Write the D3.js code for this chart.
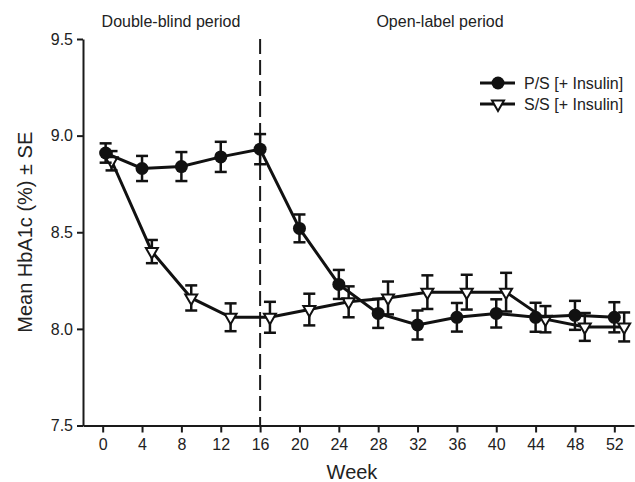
<!DOCTYPE html>
<html>
<head>
<meta charset="utf-8">
<script src="https://cdn.jsdelivr.net/npm/d3@7"></script>
<style>
	body { margin: 0; background: #fff; }
	svg { display: block; font-family: "Liberation Sans", Arial, sans-serif; }
</style>
</head>
<body>
<script>
// data
var weeksPS = [0.3, 4, 8, 12, 16, 20, 24, 28, 32, 36, 40, 44, 48, 52];
var meanPS = [8.91, 8.83, 8.84, 8.89, 8.93, 8.52, 8.23, 8.08, 8.02, 8.06, 8.08, 8.06, 8.07, 8.06];
var sePS = [0.05, 0.065, 0.075, 0.078, 0.078, 0.072, 0.075, 0.075, 0.075, 0.074, 0.073, 0.075, 0.075, 0.078];

var weeksSS = [0.9, 5, 9, 13, 17, 21, 25, 29, 33, 37, 41, 45, 49, 53];
var meanSS = [8.87, 8.40, 8.16, 8.06, 8.06, 8.10, 8.14, 8.16, 8.19, 8.19, 8.19, 8.05, 8.01, 8.01];
var seSS = [0.05, 0.06, 0.065, 0.072, 0.08, 0.082, 0.08, 0.085, 0.087, 0.09, 0.1, 0.068, 0.072, 0.075];

var xTicks = [0, 4, 8, 12, 16, 20, 24, 28, 32, 36, 40, 44, 48, 52];
var yTicks = [7.5, 8.0, 8.5, 9.0, 9.5];
var periodLabels = ["Double-blind period", "Open-label period"];
var seriesNames = ["P/S [+ Insulin]", "S/S [+ Insulin]"];
var switchWeek = 16;

var svg = d3.select("body").append("svg")
	.attr("width", 635)
	.attr("height", 482);

var x = d3.scaleLinear().domain([-2, 54]).range([83, 634]);
var y = d3.scaleLinear().domain([7.5, 9.5]).range([425.5, 39]);

// axes
var xAxis = svg.append("g")
	.attr("transform", "translate(0," + y(7.5) + ")")
	.call(d3.axisBottom(x).tickValues(xTicks).tickSize(7).tickSizeOuter(0).tickPadding(6));

var yAxis = svg.append("g")
	.attr("transform", "translate(" + x(-2) + ",0)")
	.call(d3.axisLeft(y).tickValues(yTicks).tickFormat(d3.format(".1f")).tickSize(6).tickSizeOuter(0).tickPadding(4));

[xAxis, yAxis].forEach(function(a) {
	a.selectAll("path, line").attr("stroke", "#1a1a1a").attr("stroke-width", 2);
	a.selectAll("text").attr("fill", "#222").style("font-size", "16px");
});

svg.append("text")
	.attr("x", 352)
	.attr("y", 479)
	.attr("text-anchor", "middle")
	.style("font-size", "20px")
	.attr("fill", "#222")
	.text("Week");

svg.append("text")
	.attr("transform", "translate(32," + y(8.5) + ") rotate(-90)")
	.attr("text-anchor", "middle")
	.style("font-size", "20px")
	.attr("fill", "#222")
	.text("Mean HbA1c (%) \u00b1 SE");

// period divider
svg.append("line")
	.attr("x1", x(switchWeek)).attr("x2", x(switchWeek))
	.attr("y1", y(9.5)).attr("y2", y(7.5))
	.attr("stroke", "#1a1a1a")
	.attr("stroke-width", 2)
	.attr("stroke-dasharray", "15,6");

svg.append("text")
	.attr("x", 171).attr("y", 27)
	.attr("text-anchor", "middle")
	.style("font-size", "16px")
	.attr("fill", "#222")
	.text(periodLabels[0]);

svg.append("text")
	.attr("x", 440).attr("y", 27)
	.attr("text-anchor", "middle")
	.style("font-size", "16px")
	.attr("fill", "#222")
	.text(periodLabels[1]);

var ps = weeksPS.map(function(w, i) { return {w: w, m: meanPS[i], se: sePS[i]}; });
var ss = weeksSS.map(function(w, i) { return {w: w, m: meanSS[i], se: seSS[i]}; });

var line = d3.line()
	.x(function(d) { return x(d.w); })
	.y(function(d) { return y(d.m); });

var tri = d3.symbol().type(d3.symbolTriangle).size(62);

function drawSeries(data, marker) {
	var g = svg.append("g");

	g.append("path")
		.attr("d", line(data))
		.attr("fill", "none")
		.attr("stroke", "#111")
		.attr("stroke-width", 3);

	var eb = g.selectAll(".eb")
		.data(data)
		.enter().append("g")
		.attr("class", "eb");

	eb.append("line")
		.attr("x1", function(d) { return x(d.w); })
		.attr("x2", function(d) { return x(d.w); })
		.attr("y1", function(d) { return y(d.m - d.se); })
		.attr("y2", function(d) { return y(d.m + d.se); });

	[-1, 1].forEach(function(s) {
		eb.append("line")
			.attr("x1", function(d) { return x(d.w) - 6; })
			.attr("x2", function(d) { return x(d.w) + 6; })
			.attr("y1", function(d) { return y(d.m + s * d.se); })
			.attr("y2", function(d) { return y(d.m + s * d.se); });
	});

	eb.selectAll("line")
		.attr("stroke", "#111")
		.attr("stroke-width", 2.5);

	if (marker === "circle") {
		g.selectAll(".pt")
			.data(data)
			.enter().append("circle")
			.attr("cx", function(d) { return x(d.w); })
			.attr("cy", function(d) { return y(d.m); })
			.attr("r", 6.5)
			.attr("fill", "#111");
	} else {
		g.selectAll(".pt")
			.data(data)
			.enter().append("path")
			.attr("d", tri)
			.attr("transform", function(d) {
				return "translate(" + x(d.w) + "," + y(d.m) + ") rotate(180)";
			})
			.attr("fill", "#fff")
			.attr("stroke", "#111")
			.attr("stroke-width", 2);
	}
}

drawSeries(ss, "triangle");
drawSeries(ps, "circle");

// legend
var legend = svg.append("g");
[83, 104].forEach(function(ly, i) {
	legend.append("line")
		.attr("x1", 480).attr("x2", 515)
		.attr("y1", ly).attr("y2", ly)
		.attr("stroke", "#111")
		.attr("stroke-width", 3);
	if (i === 0) {
		legend.append("circle")
			.attr("cx", 498).attr("cy", ly).attr("r", 6.5)
			.attr("fill", "#111");
	} else {
		legend.append("path")
			.attr("d", tri)
			.attr("transform", "translate(498," + ly + ") rotate(180)")
			.attr("fill", "#fff")
			.attr("stroke", "#111")
			.attr("stroke-width", 2);
	}
	legend.append("text")
		.attr("x", 524).attr("y", ly + 6)
		.style("font-size", "16px")
		.attr("fill", "#222")
		.text(seriesNames[i]);
});
</script>
</body>
</html>
